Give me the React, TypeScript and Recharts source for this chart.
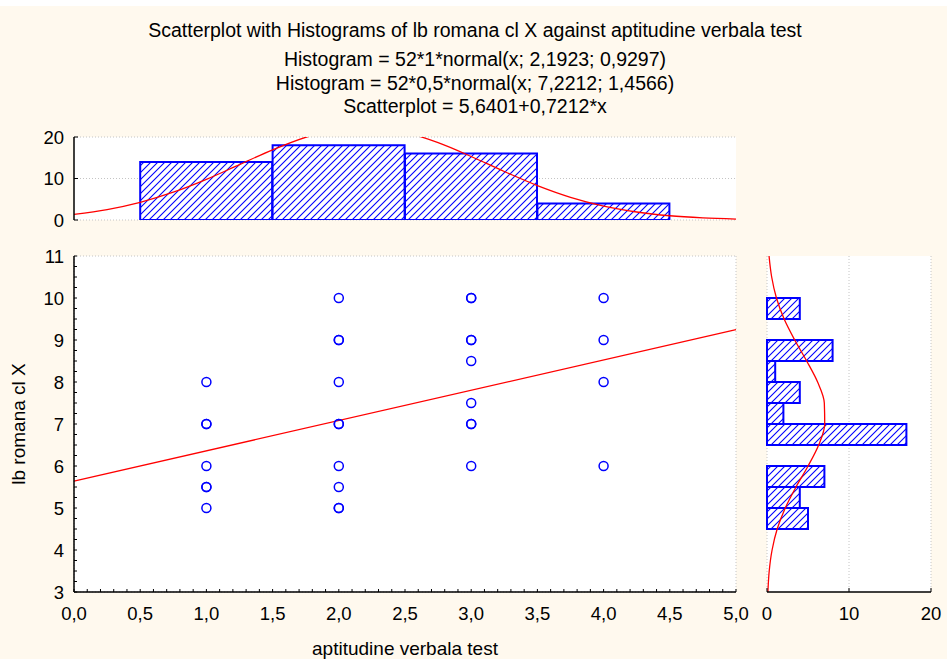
import {
  ComposedChart,
  Bar,
  Line,
  Scatter,
  XAxis,
  YAxis,
  CartesianGrid,
} from "recharts";

// top histogram — aptitudine verbala test (bins of width 1)
const xBinCenters = [1, 2, 3, 4];
const xBinCounts = [14, 18, 16, 4];

// right histogram — lb romana cl X (bins of width 0.5)
const yBinFrom = [9.5, 8.5, 8.0, 7.5, 7.0, 6.5, 5.5, 5.0, 4.5];
const yBinTo = [10.0, 9.0, 8.5, 8.0, 7.5, 7.0, 6.0, 5.5, 5.0];
const yBinCounts = [4, 8, 1, 4, 2, 17, 7, 4, 5];

// scatter points (repeated where circles overlap)
const pointX = [1, 1, 1, 1, 1, 1, 1, 2, 2, 2, 2, 2, 2, 2, 2, 2, 2, 3, 3, 3, 3, 3, 3, 3, 3, 3, 4, 4, 4, 4];
const pointY = [8, 7, 7, 6, 5.5, 5.5, 5, 10, 9, 9, 8, 7, 7, 6, 5.5, 5, 5, 10, 10, 9, 9, 8.5, 7.5, 7, 7, 6, 10, 9, 8, 6];

// fitted normal curves
const topCurveX = [0, 0.25, 0.5, 0.75, 1, 1.25, 1.5, 1.75, 2, 2.25, 2.5, 2.75, 3, 3.25, 3.5, 3.75, 4, 4.25, 4.5, 4.75, 5];
const topCurveY = [1.38, 2.52, 4.26, 6.7, 9.8, 13.35, 16.91, 19.93, 21.84, 22.27, 21.12, 18.64, 15.3, 11.68, 8.3, 5.48, 3.37, 1.93, 1.02, 0.51, 0.23];
const rightCurveY = [3, 3.5, 4, 4.5, 5, 5.5, 6, 6.5, 7, 7.5, 8, 8.5, 9, 9.5, 10, 10.5, 11];
const rightCurveCount = [0.11, 0.27, 0.62, 1.24, 2.23, 3.54, 5.01, 6.3, 7.04, 6.99, 6.17, 4.84, 3.38, 2.09, 1.15, 0.57, 0.25];

// regression line: 5,6401 + 0,7212*x
const fitX = [0, 5];
const fitY = [5.6401, 9.2461];

const xMajor = [0, 0.5, 1, 1.5, 2, 2.5, 3, 3.5, 4, 4.5, 5];
const yMajor = [3, 4, 5, 6, 7, 8, 9, 10, 11];
const topCountTicks = [0, 10, 20];
const rightCountTicks = [0, 10, 20];

const titleLines = [
  "Scatterplot with Histograms of lb romana cl X against aptitudine verbala test",
  "Histogram = 52*1*normal(x; 2,1923; 0,9297)",
  "Histogram = 52*0,5*normal(x; 7,2212; 1,4566)",
  "Scatterplot = 5,6401+0,7212*x",
];

const steps = (from: number, to: number, step: number) =>
  Array.from({ length: Math.round((to - from) / step) + 1 }, (_, i) => +(from + i * step).toFixed(3));
const xMinor = steps(0, 5, 0.1);
const yMinor = steps(3, 11, 0.25);

const topBins = xBinCenters.map((x, i) => ({ x, count: xBinCounts[i] }));
const rightBins = yBinFrom.map((f, i) => ({ mid: (f + yBinTo[i]) / 2, count: yBinCounts[i] }));
const points = pointX.map((x, i) => ({ x, y: pointY[i] }));
const topCurve = topCurveX.map((x, i) => ({ x, v: topCurveY[i] }));
const rightCurve = rightCurveY.map((y, i) => ({ y, count: rightCurveCount[i] }));
const fitLine = fitX.map((x, i) => ({ x, y: fitY[i] }));

const FONT = '"Liberation Sans", Arial, Helvetica, sans-serif';
const BG = "#fff9ee";
const BLUE = "#0000ff";
const RED = "#ff0000";
const AXIS = { stroke: "#000", strokeWidth: 1.5 };
const TICKLINE = { stroke: "#000", strokeWidth: 1 };
const TICK = { fill: "#000", fontSize: 18.5, fontFamily: FONT };
const GRID = "#c4c4c4";

// plot sizes
const PLOT_W = 662;
const PLOT_H = 336;

const isMult = (v: number, m: number) => Math.abs(v / m - Math.round(v / m)) < 1e-6;
const fmtX = (v: number) => (isMult(v, 0.5) ? v.toFixed(1).replace(".", ",") : "");
const fmtY = (v: number) => (isMult(v, 1) ? String(v) : "");

function hatch(id: string) {
  return (
    <defs>
      <pattern id={id} patternUnits="userSpaceOnUse" width={7} height={7}>
        <rect width={7} height={7} fill="#fff" />
        <path d="M0,7 L7,0 M-1,1 L1,-1 M6,8 L8,6" stroke={BLUE} strokeWidth={1.1} />
      </pattern>
    </defs>
  );
}

function TopHistogram() {
  return (
    <ComposedChart width={760} height={120} data={topBins} margin={{ top: 20, right: 24, bottom: 17, left: 14 }}>
      {hatch("hatchTop")}
      <CartesianGrid vertical={false} stroke={GRID} strokeDasharray="1 2" fill="#fff" />
      <XAxis dataKey="x" type="number" domain={[0, 5]} ticks={xMajor} interval={0} tick={false}
        tickSize={-4} height={0} axisLine={AXIS} tickLine={TICKLINE} />
      <XAxis xAxisId="t" orientation="top" type="number" domain={[0, 5]} ticks={xMajor} interval={0}
        tick={false} tickSize={-4} height={0} axisLine={AXIS} tickLine={TICKLINE} />
      <XAxis xAxisId="curve" dataKey="x" type="number" domain={[0, 5]} hide />
      <YAxis type="number" domain={[0, 20]} ticks={topCountTicks} interval={0} allowDataOverflow width={60}
        tickSize={-4} tickMargin={14} tick={TICK} axisLine={AXIS} tickLine={TICKLINE} />
      <YAxis yAxisId="r" orientation="right" type="number" domain={[0, 20]} ticks={topCountTicks} tick={false}
        tickSize={-4} width={0} axisLine={AXIS} tickLine={TICKLINE} />
      <Bar dataKey="count" fill="url(#hatchTop)" stroke={BLUE} strokeWidth={2}
        barSize={Math.floor(PLOT_W / 5)} isAnimationActive={false} />
      <Line xAxisId="curve" data={topCurve} dataKey="v" type="monotone" stroke={RED} strokeWidth={1.3}
        dot={false} activeDot={false} isAnimationActive={false} />
    </ComposedChart>
  );
}

function MainScatter() {
  return (
    <ComposedChart width={760} height={419} margin={{ top: 16, right: 24, bottom: 37, left: 14 }}>
      <CartesianGrid xAxisId="g" yAxisId="g" stroke={GRID} strokeDasharray="1 2" fill="#fff" />
      <XAxis dataKey="x" type="number" domain={[0, 5]} ticks={xMinor} interval={0} tickFormatter={fmtX}
        tickSize={-3} tickMargin={18} height={30} tick={TICK} axisLine={AXIS} tickLine={TICKLINE} />
      <XAxis xAxisId="t" orientation="top" type="number" domain={[0, 5]} ticks={xMinor} interval={0}
        tick={false} tickSize={-3} height={0} axisLine={AXIS} tickLine={TICKLINE} />
      <XAxis xAxisId="g" type="number" domain={[0, 5]} ticks={xMajor} interval={0} hide />
      <YAxis dataKey="y" type="number" domain={[3, 11]} ticks={yMinor} interval={0} tickFormatter={fmtY}
        tickSize={-3} tickMargin={13} width={60} tick={TICK} axisLine={AXIS} tickLine={TICKLINE} />
      <YAxis yAxisId="r" orientation="right" type="number" domain={[3, 11]} ticks={yMinor} interval={0}
        tick={false} tickSize={-3} width={0} axisLine={AXIS} tickLine={TICKLINE} />
      <YAxis yAxisId="g" type="number" domain={[3, 11]} ticks={yMajor} interval={0} hide />
      <Line data={fitLine} dataKey="y" type="linear" stroke={RED} strokeWidth={1.3}
        dot={false} activeDot={false} isAnimationActive={false} />
      <Scatter data={points} isAnimationActive={false}
        shape={(p: any) => <circle cx={p.cx} cy={p.cy} r={4.5} fill="none" stroke={BLUE} strokeWidth={1.5} />} />
    </ComposedChart>
  );
}

function RightHistogram() {
  return (
    <ComposedChart layout="vertical" width={202} height={419} data={rightBins}
      margin={{ top: 16, right: 16, bottom: 37, left: 22 }}>
      {hatch("hatchRight")}
      <CartesianGrid horizontal={false} stroke={GRID} strokeDasharray="1 2" fill="#fff" />
      <XAxis type="number" domain={[0, 20]} ticks={rightCountTicks} interval={0} tickSize={-4} tickMargin={19}
        height={30} tick={TICK} axisLine={AXIS} tickLine={TICKLINE} />
      <XAxis xAxisId="t" orientation="top" type="number" domain={[0, 20]} ticks={rightCountTicks} tick={false}
        tickSize={-4} height={0} axisLine={AXIS} tickLine={TICKLINE} />
      <YAxis dataKey="mid" type="number" domain={[3, 11]} reversed ticks={yMajor} interval={0} tick={false}
        tickSize={-4} width={0} axisLine={AXIS} tickLine={TICKLINE} />
      <YAxis yAxisId="r" orientation="right" type="number" domain={[3, 11]} reversed ticks={yMajor} interval={0}
        tick={false} tickSize={-5} width={0} axisLine={AXIS} tickLine={TICKLINE} />
      <YAxis yAxisId="curve" dataKey="y" type="number" domain={[3, 11]} reversed hide />
      <Bar dataKey="count" fill="url(#hatchRight)" stroke={BLUE} strokeWidth={2}
        barSize={PLOT_H / 16 - 0.1} isAnimationActive={false} />
      <Line yAxisId="curve" data={rightCurve} dataKey="count" type="monotone" stroke={RED} strokeWidth={1.3}
        dot={false} activeDot={false} isAnimationActive={false} />
    </ComposedChart>
  );
}

export default function App() {
  return (
    <div style={{ position: "absolute", left: 0, top: 0, width: 947, height: 659, background: BG, fontFamily: FONT, overflow: "hidden" }}>
      <div style={{ position: "absolute", left: 0, top: 0, width: 947, height: 6, background: "#fff" }} />
      <div style={{ position: "absolute", left: 0, top: 117 }}>
        <TopHistogram />
      </div>
      <div style={{ position: "absolute", left: 0, top: 240 }}>
        <MainScatter />
      </div>
      <div style={{ position: "absolute", left: 745, top: 240 }}>
        <RightHistogram />
      </div>
      <svg width={947} height={659} style={{ position: "absolute", left: 0, top: 0, pointerEvents: "none" }}>
        <g fontFamily={FONT} fill="#000" textAnchor="middle">
          <text x={475} y={37} fontSize={19.5}>{titleLines[0]}</text>
          <text x={475} y={66} fontSize={19.5}>{titleLines[1]}</text>
          <text x={475} y={90} fontSize={19.5}>{titleLines[2]}</text>
          <text x={475} y={113} fontSize={19.5}>{titleLines[3]}</text>
          <text x={405} y={655} fontSize={19}>aptitudine verbala test</text>
          <text x={25} y={424} fontSize={19} transform="rotate(-90 25 424)">lb romana cl X</text>
        </g>
      </svg>
    </div>
  );
}
